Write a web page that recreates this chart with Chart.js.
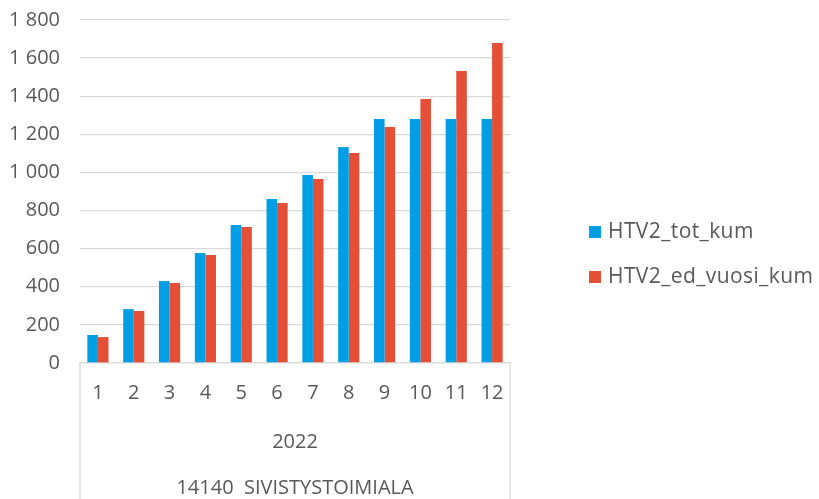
<!DOCTYPE html>
<html>
<head>
<meta charset="utf-8">
<script src="https://cdn.jsdelivr.net/npm/chart.js@4"></script>
<style>
  html, body { margin: 0; padding: 0; background: #fff; }
  #wrap { width: 819px; height: 499px; }
</style>
</head>
<body>
<div id="wrap"><canvas id="myChart"></canvas></div>
<script>
const months = ['1', '2', '3', '4', '5', '6', '7', '8', '9', '10', '11', '12'];
const totKum = [147, 283, 430, 577, 724, 860, 986, 1133, 1280, 1280, 1280, 1280];
const edVuosiKum = [136, 273, 420, 567, 714, 839, 965, 1102, 1238, 1385, 1532, 1679];
const yearLabel = '2022';
const unitLabel = '14140  SIVISTYSTOIMIALA';
const seriesNames = ['HTV2_tot_kum', 'HTV2_ed_vuosi_kum'];

const textColor = '#595959';
const gridColor = '#d9d9d9';
const fontName = "'Open Sans', sans-serif";

function spaced(v) {
    return v.toString().replace(/\B(?=(\d{3})+(?!\d))/g, ' ');
}

// group labels under the month ticks + frame lines
const groupAxis = {
    id: 'groupAxis',
    afterDraw(chart) {
        const ctx = chart.ctx;
        const area = chart.chartArea;
        ctx.save();
        ctx.strokeStyle = gridColor;
        ctx.lineWidth = 1.3;
        ctx.beginPath();
        ctx.moveTo(area.left, area.bottom);
        ctx.lineTo(area.left, chart.height);
        ctx.moveTo(area.right, area.bottom);
        ctx.lineTo(area.right, chart.height);
        ctx.stroke();
        ctx.fillStyle = textColor;
        ctx.font = '20px ' + fontName;
        ctx.textAlign = 'center';
        ctx.textBaseline = 'middle';
        const cx = (area.left + area.right) / 2;
        ctx.fillText(yearLabel, cx, area.bottom + 79);
        ctx.fillText(unitLabel, cx, area.bottom + 125);
        ctx.restore();
    }
};

const sideLegend = {
    id: 'sideLegend',
    afterDraw(chart) {
        const ctx = chart.ctx;
        ctx.save();
        ctx.font = '21px ' + fontName;
        ctx.letterSpacing = '0.4px';
        ctx.textBaseline = 'middle';
        chart.data.datasets.forEach(function (ds, i) {
            const y = 232 + i * 45;
            ctx.fillStyle = ds.backgroundColor;
            ctx.fillRect(589, y - 6, 12, 12);
            ctx.fillStyle = textColor;
            ctx.fillText(ds.label, 608, y);
        });
        ctx.restore();
    }
};

new Chart(document.getElementById('myChart'), {
    type: 'bar',
    data: {
        labels: months,
        datasets: [{
            label: seriesNames[0],
            data: totKum,
            backgroundColor: '#009ee5'
        }, {
            label: seriesNames[1],
            data: edVuosiKum,
            backgroundColor: '#e54f38'
        }]
    },
    options: {
        responsive: true,
        maintainAspectRatio: false,
        animation: false,
        categoryPercentage: 0.59,
        barPercentage: 1,
        layout: { padding: { left: 0, top: 20, right: 309, bottom: 0 } },
        plugins: {
            legend: { display: false },
            tooltip: { enabled: false }
        },
        scales: {
            x: {
                grid: { display: false, drawTicks: false },
                border: { display: true, color: gridColor, width: 1.3 },
                ticks: {
                    color: textColor,
                    font: { family: fontName, size: 20 },
                    padding: 18,
                    maxRotation: 0
                },
                afterFit(scale) { scale.height = 136; }
            },
            y: {
                min: 0,
                max: 1800,
                grid: { color: gridColor, lineWidth: 1.3, drawTicks: false },
                border: { display: false },
                ticks: {
                    stepSize: 200,
                    color: textColor,
                    font: { family: fontName, size: 20 },
                    padding: 20,
                    callback: function (v) { return spaced(v); }
                },
                afterFit(scale) {
                    scale.width = 80;
                    scale.paddingTop = 0;
                    scale.paddingBottom = 0;
                }
            }
        }
    },
    plugins: [groupAxis, sideLegend]
});
</script>
</body>
</html>
